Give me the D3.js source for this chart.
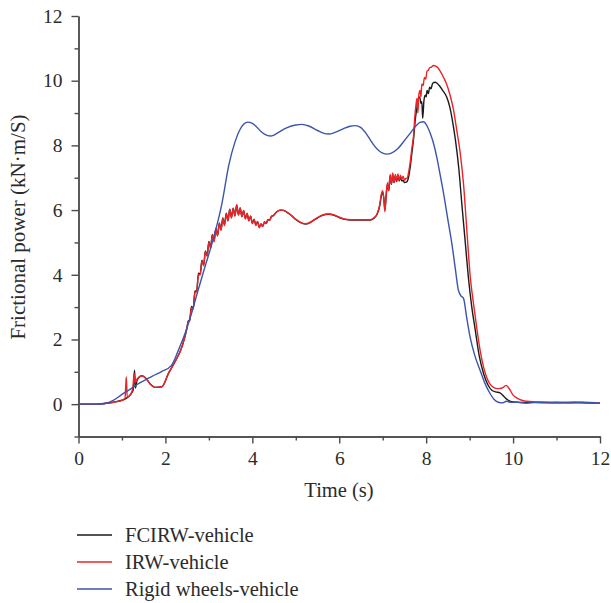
<!DOCTYPE html>
<html>
<head>
<meta charset="utf-8">
<script src="https://cdn.jsdelivr.net/npm/d3@7"></script>
<style>
  body { margin: 0; background: #fff; }
  text { font-family: "Liberation Serif", "Times New Roman", serif; fill: #2b2b2b; }
</style>
</head>
<body>
<script>
// series names and colours
var seriesNames = ["FCIRW-vehicle", "IRW-vehicle", "Rigid wheels-vehicle"];
var seriesColors = ["#1a1a1a", "#ec2327", "#3b55ab"];

var yTicks = [0, 2, 4, 6, 8, 10, 12];
var yMinor = [-1, 1, 3, 5, 7, 9, 11];
var xTicks = [0, 2, 4, 6, 8, 10, 12];
var xMinor = [1, 3, 5, 7, 9, 11];

// [time (s), frictional power (kN·m/s)]
var fcirw = [
  [0, 0], [0.4, 0], [0.6, 0.02], [0.8, 0.06], [1.0, 0.12], [1.1, 0.18], [1.2, 0.3], [1.26, 0.45],
  [1.29, 1.05], [1.31, 0.5], [1.35, 0.75], [1.46, 0.88], [1.55, 0.8], [1.65, 0.62], [1.76, 0.52],
  [1.92, 0.54], [2.07, 0.95], [2.22, 1.31], [2.38, 1.77], [2.5, 2.39],
  [2.52, 2.55], [2.56, 2.62], [2.60, 3.02], [2.64, 2.96], [2.68, 3.5], [2.72, 3.5], [2.76, 4.05],
  [2.80, 4.02], [2.84, 4.45], [2.88, 4.3], [2.92, 4.74], [2.96, 4.6], [3.00, 5.03], [3.04, 4.85],
  [3.08, 5.25], [3.12, 5.05], [3.16, 5.43], [3.20, 5.22], [3.24, 5.6], [3.28, 5.4], [3.32, 5.76],
  [3.36, 5.55], [3.40, 5.9], [3.44, 5.68], [3.48, 6.03], [3.52, 5.78], [3.56, 6.06], [3.60, 5.83],
  [3.64, 6.15], [3.68, 5.86], [3.72, 6.06], [3.76, 5.8], [3.80, 5.98], [3.84, 5.74], [3.88, 5.89],
  [3.92, 5.68], [3.96, 5.81], [4.00, 5.6], [4.04, 5.71], [4.08, 5.54], [4.12, 5.64], [4.16, 5.47],
  [4.20, 5.57], [4.24, 5.5], [4.28, 5.63], [4.32, 5.59], [4.36, 5.7], [4.40, 5.69], [4.44, 5.8],
  [4.48, 5.83], [4.55, 5.93], [4.64, 6.0], [4.72, 5.99], [4.8, 5.93], [4.9, 5.83], [5.0, 5.71],
  [5.1, 5.62], [5.22, 5.57], [5.3, 5.59], [5.4, 5.67], [5.5, 5.76], [5.6, 5.83], [5.75, 5.87],
  [5.9, 5.83], [6.0, 5.77], [6.1, 5.72], [6.2, 5.7], [6.35, 5.69], [6.5, 5.69], [6.71, 5.69],
  [6.8, 5.75], [6.87, 5.87], [6.93, 6.12], [6.97, 6.45], [7.0, 6.55], [7.03, 6.3], [7.05, 6.0],
  [7.08, 6.45], [7.11, 6.8], [7.14, 6.6], [7.17, 7.05], [7.2, 6.8], [7.23, 7.1], [7.26, 6.85],
  [7.29, 7.05], [7.32, 6.88], [7.35, 7.08], [7.38, 6.9], [7.41, 7.02], [7.44, 6.9], [7.47, 6.92],
  [7.5, 6.85], [7.56, 6.88], [7.6, 7.05], [7.63, 7.3], [7.67, 7.75], [7.71, 8.2], [7.75, 8.8],
  [7.79, 9.2], [7.82, 9.45], [7.85, 9.5], [7.88, 9.3], [7.9, 9.35], [7.92, 8.84], [7.95, 9.4],
  [7.98, 9.55], [8.0, 9.5], [8.02, 9.7], [8.05, 9.6], [8.08, 9.8], [8.11, 9.75], [8.15, 9.92],
  [8.21, 9.95], [8.3, 9.85], [8.38, 9.7], [8.47, 9.5], [8.55, 9.15], [8.6, 8.8], [8.67, 8.2],
  [8.75, 7.3], [8.82, 6.2], [8.9, 5.0], [8.97, 3.94], [9.05, 3.0], [9.13, 2.29], [9.22, 1.5],
  [9.32, 0.95], [9.42, 0.6], [9.51, 0.43], [9.6, 0.38], [9.7, 0.35], [9.8, 0.22], [9.89, 0.12],
  [10.0, 0.07], [10.3, 0.05], [10.6, 0.06], [11.0, 0.04], [11.4, 0.06], [11.7, 0.04], [12.0, 0.03]
];

var irw = [
  [0, 0], [0.4, 0], [0.6, 0.02], [0.8, 0.06], [1.0, 0.12], [1.07, 0.18], [1.1, 0.85], [1.12, 0.22],
  [1.2, 0.3], [1.25, 0.5], [1.28, 0.95], [1.3, 0.65], [1.35, 0.78], [1.46, 0.88], [1.55, 0.8],
  [1.65, 0.62], [1.76, 0.52], [1.92, 0.54], [2.07, 0.95], [2.22, 1.31], [2.38, 1.77], [2.5, 2.39],
  [2.52, 2.53], [2.56, 2.59], [2.60, 2.99], [2.64, 2.94], [2.68, 3.46], [2.72, 3.47], [2.76, 4.01],
  [2.80, 3.99], [2.84, 4.43], [2.88, 4.28], [2.92, 4.72], [2.96, 4.57], [3.00, 5.01], [3.04, 4.81],
  [3.08, 5.23], [3.12, 5.02], [3.16, 5.41], [3.20, 5.2], [3.24, 5.59], [3.28, 5.37], [3.32, 5.74],
  [3.36, 5.52], [3.40, 5.89], [3.44, 5.66], [3.48, 6.02], [3.52, 5.75], [3.56, 6.05], [3.60, 5.81],
  [3.64, 6.17], [3.68, 5.84], [3.72, 6.07], [3.76, 5.79], [3.80, 5.99], [3.84, 5.72], [3.88, 5.9],
  [3.92, 5.66], [3.96, 5.82], [4.00, 5.58], [4.04, 5.72], [4.08, 5.52], [4.12, 5.65], [4.16, 5.45],
  [4.20, 5.58], [4.24, 5.49], [4.28, 5.64], [4.32, 5.58], [4.36, 5.71], [4.40, 5.68], [4.44, 5.81],
  [4.48, 5.82], [4.55, 5.93], [4.64, 6.0], [4.72, 5.99], [4.8, 5.93], [4.9, 5.83], [5.0, 5.72],
  [5.1, 5.63], [5.22, 5.58], [5.3, 5.6], [5.4, 5.68], [5.5, 5.77], [5.6, 5.84], [5.75, 5.88],
  [5.9, 5.84], [6.0, 5.78], [6.1, 5.73], [6.2, 5.71], [6.35, 5.7], [6.5, 5.7], [6.71, 5.7],
  [6.8, 5.76], [6.87, 5.88], [6.93, 6.15], [6.97, 6.5], [7.0, 6.6], [7.03, 6.3], [7.05, 5.95],
  [7.08, 6.5], [7.11, 6.85], [7.14, 6.6], [7.17, 7.1], [7.2, 6.8], [7.23, 7.15], [7.26, 6.85],
  [7.29, 7.1], [7.32, 6.9], [7.35, 7.12], [7.38, 6.92], [7.41, 7.08], [7.44, 6.95], [7.47, 7.05],
  [7.5, 6.92], [7.53, 6.98], [7.56, 6.98], [7.6, 7.2], [7.63, 7.45], [7.67, 7.9], [7.71, 8.3],
  [7.74, 8.9], [7.77, 9.3], [7.79, 9.45], [7.81, 9.0], [7.83, 9.55], [7.86, 9.7], [7.88, 9.5],
  [7.9, 9.9], [7.93, 9.85], [7.96, 10.1], [7.99, 10.05], [8.02, 10.3], [8.05, 10.32], [8.08, 10.4],
  [8.12, 10.42], [8.17, 10.47], [8.22, 10.45], [8.27, 10.4], [8.32, 10.3], [8.4, 10.1], [8.47, 9.9],
  [8.55, 9.55], [8.63, 9.1], [8.7, 8.5], [8.78, 7.8], [8.86, 6.8], [8.94, 5.3], [9.01, 4.0],
  [9.1, 3.0], [9.17, 2.3], [9.25, 1.6], [9.32, 1.15], [9.4, 0.8], [9.47, 0.62], [9.55, 0.52],
  [9.65, 0.48], [9.75, 0.5], [9.84, 0.58], [9.9, 0.5], [10.0, 0.28], [10.1, 0.18], [10.2, 0.12],
  [10.31, 0.09], [10.5, 0.07], [10.7, 0.06], [11.0, 0.05], [11.5, 0.04], [12.0, 0.03]
];

var rigid = [
  [0, 0], [0.5, 0], [0.6, 0.02], [0.8, 0.12], [1.0, 0.3], [1.2, 0.47], [1.4, 0.65], [1.53, 0.74],
  [1.7, 0.87], [1.9, 1.0], [2.14, 1.2], [2.3, 1.67], [2.48, 2.29], [2.6, 2.8], [2.73, 3.42],
  [2.9, 4.2], [3.1, 5.1], [3.3, 6.2], [3.46, 7.4], [3.6, 8.1], [3.72, 8.5], [3.8, 8.65],
  [3.89, 8.72], [4.0, 8.68], [4.1, 8.57], [4.2, 8.43], [4.3, 8.33], [4.41, 8.29], [4.5, 8.32],
  [4.6, 8.4], [4.8, 8.55], [5.0, 8.63], [5.14, 8.65], [5.3, 8.6], [5.5, 8.46], [5.65, 8.37],
  [5.75, 8.35], [5.9, 8.4], [6.1, 8.52], [6.25, 8.59], [6.37, 8.61], [6.5, 8.55], [6.6, 8.4],
  [6.7, 8.2], [6.8, 8.0], [6.9, 7.85], [7.0, 7.76], [7.1, 7.73], [7.2, 7.76], [7.35, 7.9],
  [7.5, 8.15], [7.63, 8.37], [7.75, 8.58], [7.86, 8.71], [7.94, 8.73], [8.02, 8.6], [8.1, 8.35],
  [8.17, 8.06], [8.25, 7.6], [8.32, 7.1], [8.4, 6.52], [8.5, 5.7], [8.59, 4.97], [8.67, 4.2],
  [8.74, 3.53], [8.8, 3.35], [8.86, 3.27], [8.93, 2.7], [9.01, 2.08], [9.12, 1.5], [9.24, 1.05],
  [9.35, 0.65], [9.47, 0.33], [9.56, 0.15], [9.66, 0.06], [9.75, 0.04], [9.85, 0.09], [9.95, 0.06],
  [10.1, 0.06], [10.3, 0.03], [10.5, 0.05], [10.8, 0.04], [11.0, 0.06], [11.3, 0.04], [11.6, 0.06],
  [12.0, 0.03]
];

var seriesData = [fcirw, irw, rigid];

var width = 611, height = 603;

var svg = d3.select("body")
  .append("svg")
  .attr("width", width)
  .attr("height", height);

var x = d3.scaleLinear()
  .domain([0, 12])
  .range([78.5, 600]);

var y = d3.scaleLinear()
  .domain([-1, 12])
  .range([436.5, 16]);

// y axis: minor ticks first, then major with labels
svg.append("g")
  .attr("transform", "translate(78.5,0)")
  .call(d3.axisLeft(y).tickValues(yMinor).tickSize(4).tickSizeOuter(0).tickFormat(""));

svg.append("g")
  .attr("transform", "translate(78.5,0)")
  .call(d3.axisLeft(y).tickValues(yTicks).tickSize(7).tickSizeOuter(0).tickPadding(9));

svg.append("g")
  .attr("transform", "translate(0,436.5)")
  .call(d3.axisBottom(x).tickValues(xMinor).tickSize(4).tickSizeOuter(0).tickFormat(""));

svg.append("g")
  .attr("transform", "translate(0,436.5)")
  .call(d3.axisBottom(x).tickValues(xTicks).tickSize(7).tickSizeOuter(0).tickPadding(8));

svg.selectAll(".domain, .tick line")
  .attr("stroke", "#4a4a4a")
  .attr("stroke-width", 1.4);

svg.selectAll(".tick text")
  .style("font-size", "19.5px")
  .attr("fill", "#2b2b2b");

// axis titles
svg.append("text")
  .attr("x", 339)
  .attr("y", 497)
  .attr("text-anchor", "middle")
  .style("font-size", "20.5px")
  .text("Time (s)");

svg.append("text")
  .attr("transform", "translate(25," + 227 + ") rotate(-90)")
  .attr("text-anchor", "middle")
  .style("font-size", "21px")
  .text("Frictional power (kN·m/S)");

// lines
var line = d3.line()
  .x(function(d) { return x(d[0]); })
  .y(function(d) { return y(d[1]); })
  .curve(d3.curveMonotoneX);

svg.selectAll(".series")
  .data(seriesData)
  .enter()
  .append("path")
  .attr("class", "series")
  .attr("fill", "none")
  .attr("stroke", function(d, i) { return seriesColors[i]; })
  .attr("stroke-width", 1.4)
  .attr("stroke-linejoin", "round")
  .attr("d", line);

// legend
var legend = svg.selectAll(".legend")
  .data(seriesNames)
  .enter()
  .append("g")
  .attr("class", "legend")
  .attr("transform", function(d, i) { return "translate(0," + (535 + i * 27) + ")"; });

legend.append("line")
  .attr("x1", 77)
  .attr("x2", 112)
  .attr("stroke", function(d, i) { return seriesColors[i]; })
  .attr("stroke-width", 1.4);

legend.append("text")
  .attr("x", 125)
  .attr("y", 7)
  .style("font-size", "20.5px")
  .text(function(d) { return d; });
</script>
</body>
</html>
